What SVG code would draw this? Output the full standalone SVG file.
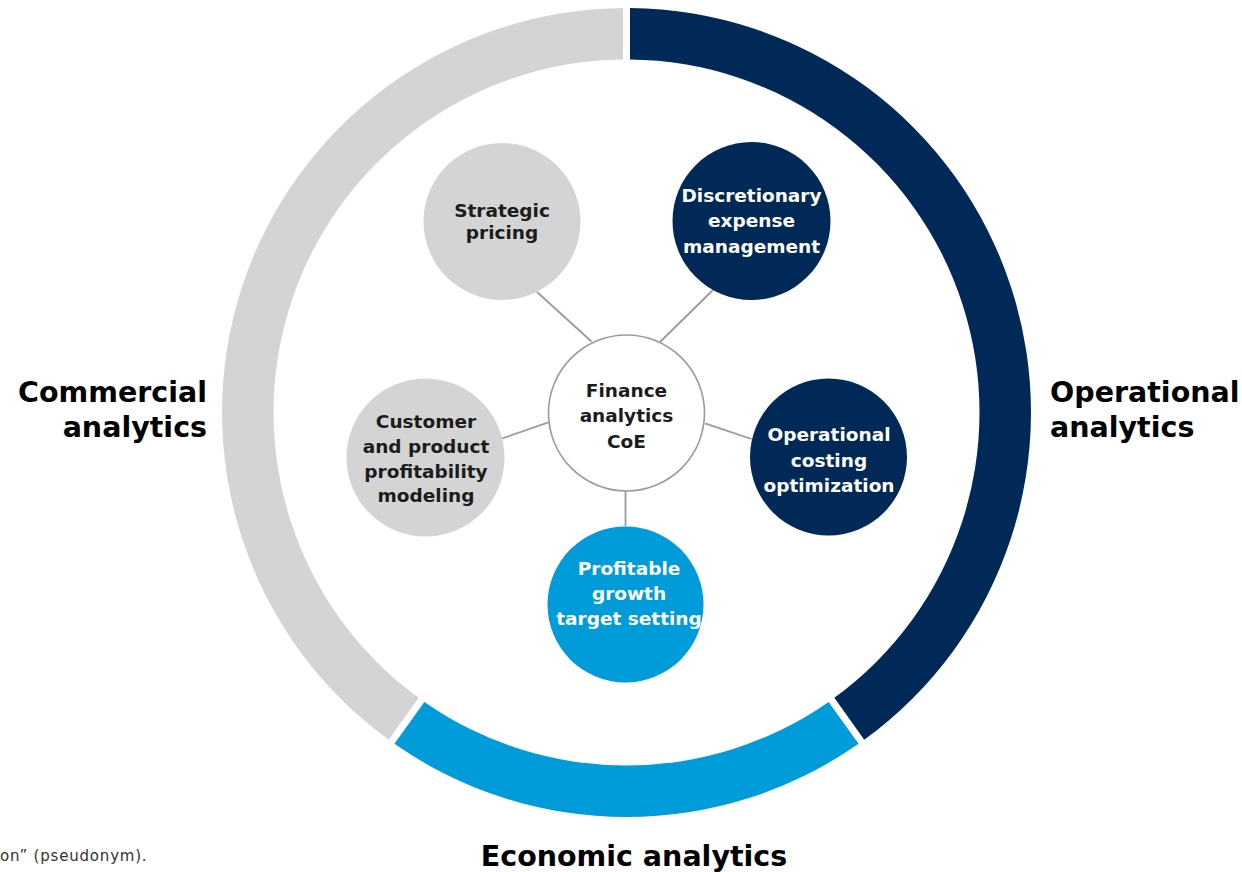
<svg xmlns="http://www.w3.org/2000/svg" width="1242" height="872" viewBox="0 0 1242 872">
<style>
.gray{fill:#d4d4d4}
.navy{fill:#002957}
.blue{fill:#009bd9}
.t{font-family:"DejaVu Sans","Liberation Sans",sans-serif;font-weight:bold;font-size:18.5px;text-anchor:middle}
.dk{fill:#1c1c1c}
.wh{fill:#ffffff}
.lbl{font-family:"DejaVu Sans","Liberation Sans",sans-serif;font-weight:bold;font-size:28.5px;fill:#000}
.conn line{stroke:#9a9a9a;stroke-width:1.8}
.note{font-family:"DejaVu Sans","Liberation Sans",sans-serif;font-size:15px;letter-spacing:0.8px;fill:#333}
</style>
<rect width="1242" height="872" fill="#ffffff"/>
<g id="ring">
<path id="ring-commercial" class="gray" d="M 388.76 739.76 A 404.5 404.5 0 0 1 623.0 8.02 L 623.0 59.52 A 353 353 0 0 0 418.67 697.84 Z"/>
<path id="ring-operational" class="navy" d="M 630.0 8.02 A 404.5 404.5 0 0 1 864.24 739.76 L 834.33 697.84 A 353 353 0 0 0 630.0 59.52 Z"/>
<path id="ring-economic" class="blue" d="M 858.54 743.83 A 404.5 404.5 0 0 1 394.46 743.83 L 424.37 701.90 A 353 353 0 0 0 828.63 701.90 Z"/>
</g>
<g id="connectors" class="conn">
<line x1="591.5" y1="341.5" x2="537" y2="292"/>
<line x1="660" y1="342" x2="713" y2="290"/>
<line x1="548.5" y1="422.3" x2="502" y2="438.5"/>
<line x1="705" y1="423.3" x2="751.5" y2="439"/>
<line x1="625.5" y1="491" x2="625.5" y2="526"/>
</g>
<g id="node-center">
<circle cx="626.5" cy="413" r="78" fill="#ffffff" stroke="#9a9a9a" stroke-width="1.6"/>
<text class="t dk" x="626.5" y="397">Finance</text>
<text class="t dk" x="626.5" y="422">analytics</text>
<text class="t dk" x="626.5" y="448">CoE</text>
</g>
<g id="node-strategic-pricing">
<circle class="gray" cx="502" cy="221.5" r="78.5"/>
<text class="t dk" x="502" y="217">Strategic</text>
<text class="t dk" x="502" y="239">pricing</text>
</g>
<g id="node-discretionary">
<circle class="navy" cx="751.5" cy="221" r="79"/>
<text class="t wh" x="751.5" y="202">Discretionary</text>
<text class="t wh" x="751.5" y="227">expense</text>
<text class="t wh" x="751.5" y="253">management</text>
</g>
<g id="node-customer">
<circle class="gray" cx="425.5" cy="457.5" r="79"/>
<text class="t dk" x="426" y="428">Customer</text>
<text class="t dk" x="426" y="453">and product</text>
<text class="t dk" x="426" y="477.5">profitability</text>
<text class="t dk" x="426" y="502">modeling</text>
</g>
<g id="node-operational-costing">
<circle class="navy" cx="828.5" cy="457" r="78.5"/>
<text class="t wh" x="829" y="441">Operational</text>
<text class="t wh" x="829" y="466.5">costing</text>
<text class="t wh" x="829" y="492">optimization</text>
</g>
<g id="node-profitable-growth">
<circle class="blue" cx="625.5" cy="604.5" r="78"/>
<text class="t wh" x="629" y="575">Profitable</text>
<text class="t wh" x="629" y="600">growth</text>
<text class="t wh" x="629" y="625">target setting</text>
</g>
<g id="label-commercial">
<text class="lbl" x="207" y="402" text-anchor="end">Commercial</text>
<text class="lbl" x="207" y="437" text-anchor="end">analytics</text>
</g>
<g id="label-operational">
<text class="lbl" x="1050" y="402">Operational</text>
<text class="lbl" x="1050" y="437">analytics</text>
</g>
<g id="label-economic">
<text class="lbl" x="634" y="866" text-anchor="middle" font-size="26">Economic analytics</text>
</g>
<text class="note" x="0" y="861">on” (pseudonym).</text>
</svg>
